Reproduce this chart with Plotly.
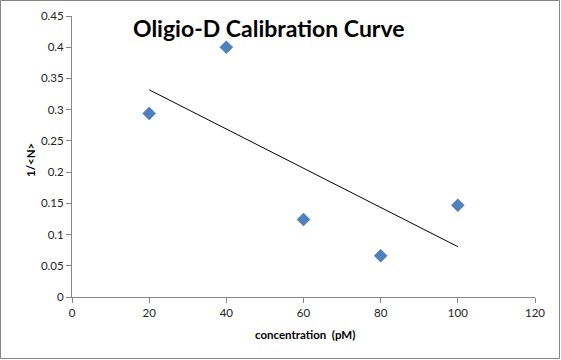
import numpy as np
import plotly.graph_objects as go

concentration = [20, 40, 60, 80, 100]
inv_n = [0.294, 0.400, 0.124, 0.066, 0.147]

x_ticks = [0, 20, 40, 60, 80, 100, 120]
y_ticks = [0, 0.05, 0.1, 0.15, 0.2, 0.25, 0.3, 0.35, 0.4, 0.45]
y_tick_labels = ["0", "0.05", "0.1", "0.15", "0.2", "0.25", "0.3", "0.35", "0.4", "0.45"]

# linear trendline (least squares), as drawn by the spreadsheet
slope, intercept = np.polyfit(concentration, inv_n, 1)
trend_x = [min(concentration), max(concentration)]
trend_y = [slope * v + intercept for v in trend_x]

W, H = 561, 360
ml, mr, mt, mb = 72, 26, 16, 63
pw, ph = W - ml - mr, H - mt - mb

def px_x(px):
    return (px - ml) / pw

def px_y(py):
    return 1 - (py - mt) / ph

fig = go.Figure()
fig.add_trace(go.Scatter(
    x=concentration, y=inv_n, mode="markers",
    marker=dict(symbol="diamond", size=10, color="#4F81BD",
                line=dict(width=0.5, color="#3F6FA8")),
    showlegend=False, hoverinfo="x+y"))
fig.add_trace(go.Scatter(
    x=trend_x, y=trend_y, mode="lines",
    line=dict(color="black", width=1), showlegend=False, hoverinfo="skip"))

fam = "Lato, Carlito, 'Open Sans', sans-serif"
axis_font = dict(family=fam, size=11.5, color="#222222")

fig.update_layout(
    width=W, height=H,
    margin=dict(l=ml, r=mr, t=mt, b=mb),
    paper_bgcolor="white", plot_bgcolor="white",
    font=axis_font,
    xaxis=dict(range=[0, 120], tickvals=x_ticks, ticktext=[str(v) for v in x_ticks],
               showgrid=False, zeroline=False, showline=True, linecolor="#868686",
               linewidth=1, ticks="outside", ticklen=5, tickcolor="#868686",
               tickfont=axis_font, automargin=False),
    yaxis=dict(range=[0, 0.45], tickvals=y_ticks, ticktext=y_tick_labels,
               showgrid=False, zeroline=False, showline=True, linecolor="#868686",
               linewidth=1, ticks="outside", ticklen=5, tickcolor="#868686",
               tickfont=axis_font, automargin=False),
    annotations=[
        dict(text="<b>Oligio-D Calibration Curve</b>", xref="paper", yref="paper",
             x=px_x(269), y=px_y(28), xanchor="center", yanchor="middle",
             showarrow=False, font=dict(family=fam, size=23, color="black")),
        dict(text="<b>concentration  (pM)</b>", xref="paper", yref="paper",
             x=px_x(305), y=px_y(334), xanchor="center", yanchor="middle",
             showarrow=False, font=dict(family=fam, size=11.5, color="black")),
        dict(text="<b>1/&lt;N&gt;</b>", xref="paper", yref="paper", textangle=-90,
             x=px_x(30), y=px_y(160), xanchor="center", yanchor="middle",
             showarrow=False, font=dict(family=fam, size=11.5, color="black")),
    ],
    shapes=[dict(type="rect", xref="paper", yref="paper",
                 x0=(-ml + 0.5) / pw, x1=(pw + mr - 1.5) / pw,
                 y0=-(mb - 1.5) / ph, y1=1 + (mt - 0.5) / ph,
                 line=dict(color="#868686", width=1), fillcolor="rgba(0,0,0,0)", layer="below")],
)

fig.write_html("out.html", config={"displayModeBar": False},
               post_script="document.body.style.margin='0';document.body.style.overflow='hidden';")
